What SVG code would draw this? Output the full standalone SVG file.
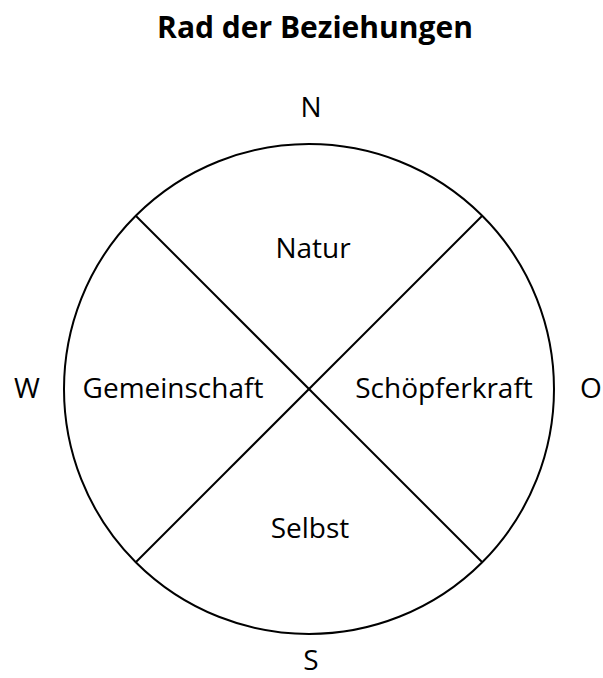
<svg xmlns="http://www.w3.org/2000/svg" width="603" height="678" viewBox="0 0 603 678">
<style>
.t{font-family:"Open Sans","Liberation Sans",sans-serif;font-size:28px;fill:#000;text-anchor:middle}
.h{font-family:"Open Sans","Liberation Sans",sans-serif;font-size:30px;font-weight:bold;fill:#000;text-anchor:middle}
.s{fill:none;stroke:#000;stroke-width:2}
</style>
<rect width="603" height="678" fill="#fff"/>
<text id="title" class="h" x="315" y="38">Rad der Beziehungen</text>
<g id="wheel">
<circle class="s" cx="309" cy="389" r="245"/>
</g>
<g id="connectors">
<line class="s" x1="136" y1="216" x2="482" y2="562"/>
<line class="s" x1="482" y1="216" x2="136" y2="562"/>
</g>
<g id="north"><text class="t" x="311" y="117">N</text></g>
<g id="west"><text class="t" x="27" y="398">W</text></g>
<g id="east"><text class="t" x="591" y="398">O</text></g>
<g id="south"><text class="t" x="311" y="670">S</text></g>
<g id="natur"><text class="t" x="313" y="258">Natur</text></g>
<g id="gemeinschaft"><text class="t" x="173" y="398">Gemeinschaft</text></g>
<g id="schoepferkraft"><text class="t" x="444" y="398">Schöpferkraft</text></g>
<g id="selbst"><text class="t" x="310" y="538">Selbst</text></g>
</svg>
